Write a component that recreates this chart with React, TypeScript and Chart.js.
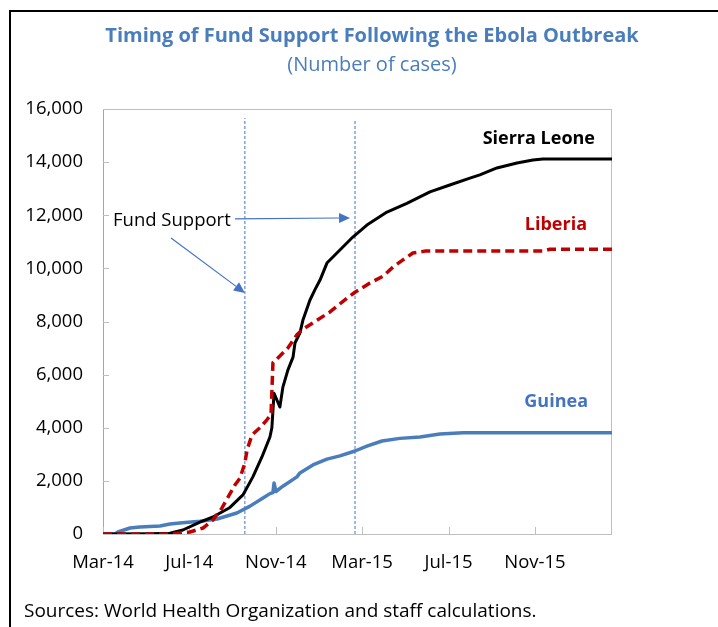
import React, { useEffect, useRef } from "react";
import { Chart, registerables } from "chart.js";

Chart.register(...registerables);

// x values are months since March 2014
const xTickMonths = [0, 4, 8, 12, 16, 20];
const xTickLabels = ["Mar-14", "Jul-14", "Nov-14", "Mar-15", "Jul-15", "Nov-15"];
const xMax = 23.57;
const yTicks = [0, 2000, 4000, 6000, 8000, 10000, 12000, 14000, 16000];

const sierraLeoneMonths = [0, 2.18, 3.1, 3.7, 4.49, 5.09, 5.88, 6.48, 6.94, 7.36, 7.73, 7.82, 7.92, 8.19, 8.33, 8.56, 8.8, 8.89, 9.12, 9.26, 9.58, 9.81, 10.05, 10.37, 10.97, 11.57, 12.22, 13.15, 14.07, 15.14, 16.06, 16.99, 17.45, 18.24, 19.17, 19.91, 20.37, 23.57];
const sierraLeoneCases = [0, 10, 30, 150, 450, 640, 1000, 1470, 2150, 2900, 3650, 4000, 5300, 4780, 5530, 6170, 6660, 7190, 7570, 8060, 8800, 9190, 9560, 10200, 10690, 11180, 11630, 12120, 12450, 12880, 13140, 13400, 13520, 13780, 13970, 14080, 14120, 14120];

const liberiaMonths = [0, 3.1, 4.03, 4.63, 5.09, 5.51, 5.79, 6.11, 6.34, 6.57, 6.67, 6.9, 7.27, 7.59, 7.78, 7.87, 8.19, 8.56, 8.98, 9.21, 9.72, 10.51, 11.3, 11.67, 12.36, 12.96, 13.43, 13.89, 14.35, 14.91, 20.37, 20.69, 23.57];
const liberiaCases = [0, 0, 75, 225, 530, 980, 1390, 1845, 2100, 2670, 3160, 3730, 4000, 4300, 4500, 6450, 6700, 7000, 7500, 7680, 7950, 8360, 8880, 9100, 9450, 9700, 10050, 10320, 10580, 10650, 10650, 10720, 10720];

const guineaMonths = [0, 0.56, 0.69, 1.25, 1.71, 2.64, 3.1, 3.56, 4.49, 5.28, 6.2, 6.81, 7.41, 7.73, 7.87, 7.92, 8.01, 8.33, 8.98, 9.12, 9.72, 10.37, 10.97, 11.67, 12.22, 12.92, 13.75, 14.68, 15.6, 16.67, 23.57];
const guineaCases = [0, 0, 75, 225, 260, 300, 375, 415, 480, 565, 790, 1050, 1355, 1520, 1560, 1920, 1600, 1800, 2150, 2300, 2600, 2820, 2940, 3125, 3310, 3500, 3600, 3650, 3765, 3810, 3810];

// Fund support timing (months since Mar-14) and top of the marker lines
const fundSupportMonths = [6.57, 11.67];
const fundSupportTop = [15660, 15550];
// Arrows: [fromMonth, fromCases, toMonth, toCases]
const fundArrows = [
  [6.11, 11860, 11.44, 11900],
  [3.15, 11145, 6.57, 9075],
];

const seriesNames = ["Sierra Leone", "Liberia", "Guinea"];
const FONT = "'Open Sans', 'Noto Sans', sans-serif";

function pts(xs: number[], ys: number[]) {
  return xs.map((x, i) => ({ x, y: ys[i] }));
}

const decorPlugin = {
  id: "decor",
  beforeDatasetsDraw(chart: any) {
    const { ctx, chartArea: a, scales } = chart;
    ctx.save();
    ctx.strokeStyle = "#BFBFBF";
    ctx.lineWidth = 1;
    ctx.strokeRect(a.left + 0.5, a.top + 0.5, a.right - a.left - 1, a.bottom - a.top);
    ctx.strokeStyle = "#A6A6A6";
    ctx.beginPath();
    ctx.moveTo(a.left + 0.5, a.top);
    ctx.lineTo(a.left + 0.5, a.bottom);
    ctx.stroke();
    ctx.strokeStyle = "#BFBFBF";
    ctx.beginPath();
    yTicks.forEach((v) => {
      const y = Math.round(scales.y.getPixelForValue(v)) + 0.5;
      ctx.moveTo(a.left, y);
      ctx.lineTo(a.left + 6, y);
    });
    xTickMonths.forEach((m) => {
      const x = Math.round(scales.x.getPixelForValue(m)) + 0.5;
      ctx.moveTo(x, a.bottom);
      ctx.lineTo(x, a.bottom - 7);
    });
    ctx.stroke();
    ctx.restore();
  },
  afterDatasetsDraw(chart: any) {
    const { ctx, scales } = chart;
    ctx.save();
    ctx.strokeStyle = "#4472C4";
    ctx.fillStyle = "#4472C4";
    ctx.lineWidth = 1.2;
    fundArrows.forEach(([m0, v0, m1, v1]) => {
      const x0 = scales.x.getPixelForValue(m0);
      const y0 = scales.y.getPixelForValue(v0);
      const x1 = scales.x.getPixelForValue(m1);
      const y1 = scales.y.getPixelForValue(v1);
      const ang = Math.atan2(y1 - y0, x1 - x0);
      const L = 11, W = 5;
      const bx = x1 - L * Math.cos(ang), by = y1 - L * Math.sin(ang);
      ctx.beginPath();
      ctx.moveTo(x0, y0);
      ctx.lineTo(bx, by);
      ctx.stroke();
      ctx.beginPath();
      ctx.moveTo(x1, y1);
      ctx.lineTo(bx + W * Math.sin(ang), by - W * Math.cos(ang));
      ctx.lineTo(bx - W * Math.sin(ang), by + W * Math.cos(ang));
      ctx.closePath();
      ctx.fill();
    });
    ctx.restore();
  },
  afterDraw(chart: any) {
    const { ctx } = chart;
    ctx.save();
    ctx.fillStyle = "#000";
    ctx.fillRect(9, 10, 2, 617);
    ctx.fillRect(9, 10, 709, 2);
    ctx.textBaseline = "middle";
    ctx.textAlign = "center";
    ctx.fillStyle = "#4A7EBB";
    ctx.font = `bold 20px ${FONT}`;
    ctx.fillText("Timing of Fund Support Following the Ebola Outbreak", 372, 36);
    ctx.font = `20px ${FONT}`;
    ctx.fillText("(Number of cases)", 372, 65);
    ctx.font = `bold 18px ${FONT}`;
    ctx.textAlign = "right";
    ctx.fillStyle = "#000";
    ctx.fillText(seriesNames[0], 595, 139);
    ctx.fillStyle = "#C00000";
    ctx.fillText(seriesNames[1], 587, 225);
    ctx.fillStyle = "#4472C4";
    ctx.fillText(seriesNames[2], 588, 402);
    ctx.font = `18.5px ${FONT}`;
    ctx.textAlign = "left";
    ctx.fillStyle = "#000";
    ctx.fillText("Fund Support", 113, 221);
    ctx.font = `19px ${FONT}`;
    ctx.fillText("Sources: World Health Organization and staff calculations.", 24, 612);
    ctx.restore();
  },
};

export default function App() {
  const ref = useRef<HTMLCanvasElement>(null);
  useEffect(() => {
    if (!ref.current) return;
    Chart.defaults.font.family = FONT;
    const chart = new Chart(ref.current, {
      type: "line",
      data: {
        datasets: [
          {
            label: seriesNames[2],
            data: pts(guineaMonths, guineaCases),
            borderColor: "#4A7EBB",
            borderWidth: 3.5,
            pointRadius: 0,
            order: 3,
          },
          {
            label: seriesNames[0],
            data: pts(sierraLeoneMonths, sierraLeoneCases),
            borderColor: "#000000",
            borderWidth: 3,
            pointRadius: 0,
            order: 2,
          },
          {
            label: seriesNames[1],
            data: pts(liberiaMonths, liberiaCases),
            borderColor: "#C00000",
            borderWidth: 3.5,
            borderDash: [9, 5],
            pointRadius: 0,
            order: 1,
          },
          ...fundSupportMonths.map((m, i) => ({
            label: "Fund Support " + (i + 1),
            data: [
              { x: m, y: 0 },
              { x: m, y: fundSupportTop[i] },
            ],
            borderColor: "#4472C4",
            borderWidth: 1,
            borderDash: [3, 2],
            pointRadius: 0,
            order: 10,
          })),
        ],
      },
      options: {
        animation: false,
        responsive: false,
        devicePixelRatio: 1,
        layout: { padding: { left: 0, right: 106, top: 109, bottom: 0 } },
        plugins: { legend: { display: false }, tooltip: { enabled: false }, title: { display: false } },
        elements: { line: { tension: 0, borderCapStyle: "butt", borderJoinStyle: "round" } },
        scales: {
          x: {
            type: "linear",
            min: 0,
            max: xMax,
            afterBuildTicks: (s: any) => {
              s.ticks = xTickMonths.map((v) => ({ value: v }));
            },
            afterFit: (s: any) => {
              s.height = 93;
            },
            grid: { display: false, drawTicks: false },
            border: { display: false },
            ticks: {
              padding: 18,
              color: "#000",
              font: { size: 18.5, family: FONT },
              maxRotation: 0,
              autoSkip: false,
              callback: (v: any) => {
                const i = xTickMonths.indexOf(Number(v));
                return i >= 0 ? xTickLabels[i] : "";
              },
            },
          },
          y: {
            min: 0,
            max: 16000,
            afterBuildTicks: (s: any) => {
              s.ticks = yTicks.map((v) => ({ value: v }));
            },
            afterFit: (s: any) => {
              s.width = 103;
            },
            grid: { display: false, drawTicks: false },
            border: { display: false },
            ticks: {
              padding: 20,
              color: "#000",
              font: { size: 18.5, family: FONT },
              callback: (v: any) => Number(v).toLocaleString("en-US"),
            },
          },
        },
      },
      plugins: [decorPlugin],
    } as any);
    return () => chart.destroy();
  }, []);
  return (
    <div style={{ position: "absolute", left: 0, top: 0, width: 718, height: 627, background: "#fff", overflow: "hidden" }}>
      <canvas ref={ref} width={718} height={627} style={{ display: "block", width: 718, height: 627 }} />
    </div>
  );
}
